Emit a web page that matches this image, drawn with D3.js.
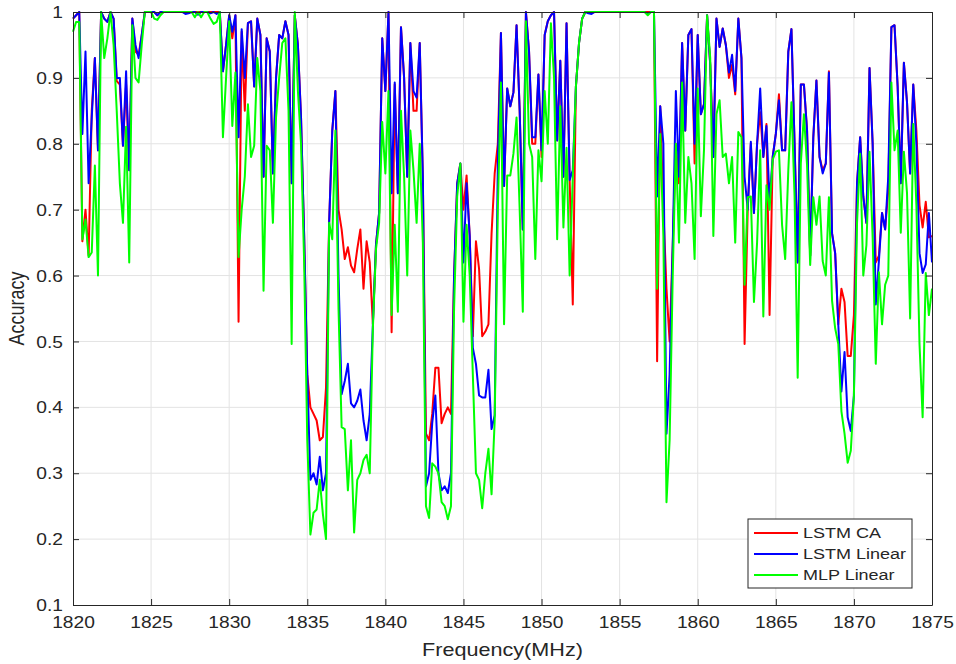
<!DOCTYPE html>
<meta charset="utf-8">
<style>
body { margin: 0; background: #fff; }
text { font-family: "Liberation Sans", Arial, sans-serif; fill: #262626; }
.grid line { stroke: #e3e3e3; stroke-width: 1; }
.series { fill: none; stroke-width: 2; stroke-linejoin: round; }
</style>
<body>
<svg width="956" height="664"></svg>
<script src="https://cdn.jsdelivr.net/npm/d3@7"></script>
<script>

// frequency grid of the samples (MHz)
var freqStart = 1820, freqStep = 0.2;

var lstmCA = [
  0.99, 0.995, 1.0, 0.652, 0.70, 0.63, 0.85, 0.93, 0.79, 1.0,
  0.99, 0.985, 1.0, 0.99, 0.895, 0.89, 0.797, 0.89, 0.76, 0.99,
  0.94, 0.935, 0.965, 1, 1, 1, 1, 0.995, 1, 1,
  1, 1, 1, 1, 1, 1, 1, 1, 1, 1,
  1, 1, 1, 1, 1, 1, 1, 1, 0.91, 0.95,
  0.995, 0.96, 0.995, 0.53, 0.97, 0.85, 0.983, 0.986, 0.887, 0.99,
  0.965, 0.75, 0.96, 0.94, 0.755, 0.9, 0.965, 0.96, 0.986, 0.965,
  0.74, 0.995, 0.95, 0.84, 0.66, 0.45, 0.40, 0.39, 0.38, 0.35,
  0.355, 0.43, 0.68, 0.82, 0.88, 0.70, 0.67, 0.625, 0.643, 0.615,
  0.605, 0.64, 0.67, 0.58, 0.652, 0.62, 0.526, 0.647, 0.695, 0.96,
  0.88, 1.0, 0.514, 0.89, 0.725, 0.977, 0.9, 0.75, 0.953, 0.85,
  0.85, 0.953, 0.75, 0.36, 0.35, 0.39, 0.46, 0.46, 0.376, 0.39,
  0.40, 0.39, 0.60, 0.74, 0.77, 0.70, 0.752, 0.66, 0.508, 0.652,
  0.61, 0.508, 0.515, 0.526, 0.664, 0.755, 0.80, 0.968, 0.736, 0.884,
  0.857, 0.878, 0.98, 0.85, 0.67, 1.0, 0.94, 0.80, 0.80, 0.905,
  0.78, 0.965, 0.986, 0.995, 1.0, 0.805, 0.926, 0.75, 0.983, 0.745,
  0.556, 0.887, 0.953, 0.99, 1, 1, 1, 1, 1, 1,
  1, 1, 1, 1, 1, 1, 1, 1, 1, 1,
  1, 1, 1, 1, 1, 1, 1, 0.47, 0.857, 0.70,
  0.58, 0.50, 0.646, 0.80, 0.74, 0.953, 0.82, 0.965, 0.974, 0.77,
  0.965, 0.845, 0.86, 0.995, 0.92, 0.78, 0.99, 0.947, 0.975, 0.95,
  0.90, 0.92, 0.875, 0.99, 0.93, 0.496, 0.70, 0.80, 0.695, 0.80,
  0.848, 0.78, 0.83, 0.54, 0.78, 0.815, 0.875, 0.79, 0.79, 0.94,
  0.974, 0.80, 0.62, 0.89, 0.89, 0.82, 0.63, 0.81, 0.896, 0.78,
  0.76, 0.77, 0.91, 0.664, 0.634, 0.526, 0.58, 0.56, 0.478, 0.478,
  0.54, 0.74, 0.81, 0.72, 0.68, 0.915, 0.80, 0.62, 0.63, 0.695,
  0.67, 0.73, 0.977, 0.98, 0.887, 0.74, 0.923, 0.863, 0.755, 0.89,
  0.82, 0.707, 0.673, 0.712, 0.658, 0.66
];

var lstmLinear = [
  0.99, 0.995, 1.0, 0.815, 0.94, 0.74, 0.84, 0.93, 0.79, 1.0,
  0.99, 0.985, 1.0, 0.99, 0.90, 0.90, 0.797, 0.91, 0.76, 0.99,
  0.95, 0.93, 0.965, 1, 1, 1, 1, 0.995, 1, 1,
  1, 1, 1, 1, 1, 1, 0.997, 0.998, 1, 1,
  0.996, 1, 1, 1, 0.998, 1, 0.997, 1, 0.91, 0.95,
  0.995, 0.97, 0.995, 0.81, 0.974, 0.90, 0.983, 0.986, 0.887, 0.99,
  0.965, 0.75, 0.96, 0.94, 0.755, 0.9, 0.965, 0.96, 0.986, 0.965,
  0.74, 0.995, 0.95, 0.84, 0.66, 0.45, 0.29, 0.30, 0.283, 0.325,
  0.274, 0.30, 0.68, 0.82, 0.88, 0.60, 0.42, 0.44, 0.466, 0.406,
  0.40, 0.41, 0.427, 0.38, 0.35, 0.39, 0.526, 0.647, 0.695, 0.96,
  0.88, 1.0, 0.725, 0.893, 0.725, 0.977, 0.9, 0.75, 0.953, 0.88,
  0.87, 0.953, 0.75, 0.28, 0.30, 0.376, 0.418, 0.30, 0.274, 0.28,
  0.27, 0.30, 0.60, 0.74, 0.77, 0.62, 0.74, 0.66, 0.49, 0.466,
  0.418, 0.415, 0.415, 0.457, 0.367, 0.388, 0.767, 0.968, 0.736, 0.884,
  0.857, 0.878, 0.98, 0.85, 0.67, 1.0, 0.94, 0.81, 0.81, 0.905,
  0.79, 0.965, 0.986, 0.995, 1.0, 0.805, 0.926, 0.75, 0.983, 0.745,
  0.76, 0.887, 0.953, 0.99, 1, 0.998, 0.997, 1, 1, 1,
  1, 1, 1, 1, 1, 1, 1, 1, 1, 1,
  1, 1, 1, 1, 0.997, 1, 1, 0.72, 0.857, 0.80,
  0.36, 0.45, 0.646, 0.88, 0.75, 0.953, 0.82, 0.965, 0.974, 0.80,
  0.965, 0.845, 0.86, 0.995, 0.92, 0.78, 0.99, 0.947, 0.975, 0.95,
  0.908, 0.935, 0.88, 0.99, 0.93, 0.75, 0.70, 0.803, 0.695, 0.80,
  0.884, 0.78, 0.827, 0.713, 0.78, 0.815, 0.866, 0.79, 0.79, 0.94,
  0.974, 0.80, 0.62, 0.89, 0.89, 0.82, 0.63, 0.81, 0.896, 0.78,
  0.755, 0.77, 0.908, 0.664, 0.634, 0.526, 0.424, 0.484, 0.385, 0.364,
  0.418, 0.74, 0.81, 0.72, 0.68, 0.915, 0.80, 0.556, 0.622, 0.695,
  0.67, 0.75, 0.977, 0.98, 0.887, 0.74, 0.923, 0.863, 0.755, 0.89,
  0.80, 0.634, 0.604, 0.617, 0.695, 0.62
];

var mlpLinear = [
  0.97, 0.985, 0.985, 0.655, 0.685, 0.628, 0.635, 0.767, 0.60, 1.0,
  0.93, 0.96, 1.0, 0.95, 0.85, 0.74, 0.68, 0.826, 0.62, 0.98,
  0.90, 0.893, 0.95, 1, 1, 1, 0.99, 0.988, 0.995, 1,
  1, 1, 1, 1, 1, 1, 1, 1, 1, 0.992,
  1, 0.992, 1, 1, 0.99, 0.982, 0.985, 1, 0.81, 0.90,
  0.986, 0.827, 0.908, 0.628, 0.70, 0.75, 0.86, 0.78, 0.797, 0.93,
  0.88, 0.577, 0.797, 0.79, 0.68, 0.84, 0.9, 0.953, 0.96, 0.85,
  0.496, 1.0, 0.88, 0.80, 0.62, 0.35, 0.207, 0.24, 0.245, 0.29,
  0.238, 0.20, 0.68, 0.655, 0.82, 0.55, 0.37, 0.367, 0.274, 0.35,
  0.21, 0.29, 0.30, 0.32, 0.328, 0.30, 0.52, 0.64, 0.68, 0.833,
  0.755, 0.88, 0.54, 0.677, 0.545, 0.85, 0.75, 0.6, 0.82, 0.76,
  0.68, 0.80, 0.65, 0.25, 0.232, 0.315, 0.31, 0.30, 0.256, 0.25,
  0.23, 0.25, 0.55, 0.72, 0.77, 0.53, 0.677, 0.60, 0.45, 0.30,
  0.29, 0.247, 0.30, 0.337, 0.268, 0.38, 0.70, 0.893, 0.526, 0.752,
  0.752, 0.785, 0.84, 0.70, 0.545, 0.986, 0.80, 0.78, 0.625, 0.79,
  0.743, 0.88, 0.80, 0.983, 0.9, 0.655, 0.857, 0.673, 0.794, 0.6,
  0.75, 0.887, 0.953, 0.99, 1, 1, 1, 1, 1, 1,
  1, 1, 1, 1, 1, 1, 1, 1, 1, 1,
  1, 1, 1, 1, 0.995, 1, 1, 0.58, 0.815, 0.66,
  0.256, 0.35, 0.60, 0.80, 0.65, 0.893, 0.68, 0.78, 0.74, 0.625,
  0.884, 0.69, 0.79, 0.995, 0.93, 0.66, 0.845, 0.866, 0.78, 0.785,
  0.74, 0.78, 0.65, 0.818, 0.81, 0.586, 0.719, 0.72, 0.56, 0.65,
  0.79, 0.538, 0.737, 0.70, 0.776, 0.788, 0.79, 0.677, 0.625, 0.76,
  0.863, 0.72, 0.445, 0.77, 0.845, 0.767, 0.616, 0.719, 0.677, 0.72,
  0.622, 0.60, 0.719, 0.562, 0.52, 0.496, 0.394, 0.36, 0.316, 0.334,
  0.418, 0.68, 0.785, 0.6, 0.646, 0.788, 0.658, 0.466, 0.605, 0.526,
  0.586, 0.6, 0.893, 0.79, 0.82, 0.665, 0.788, 0.725, 0.535, 0.83,
  0.707, 0.496, 0.385, 0.604, 0.54, 0.58
];

var seriesNames = ["LSTM CA", "LSTM Linear", "MLP Linear"];
var seriesColors = ["#ff0000", "#0000ff", "#00ff00"];
var xTicks = [1820, 1825, 1830, 1835, 1840, 1845, 1850, 1855, 1860, 1865, 1870, 1875];
var yTicks = [0.1, 0.2, 0.3, 0.4, 0.5, 0.6, 0.7, 0.8, 0.9, 1];

var svg = d3.select("svg"),
    margin = {top: 12, right: 24, bottom: 59, left: 73},
    width = +svg.attr("width") - margin.left - margin.right,
    height = +svg.attr("height") - margin.top - margin.bottom,
    g = svg.append("g").attr("transform", "translate(" + margin.left + "," + margin.top + ")");

// the picture is stretched sideways, so text gets a horizontal stretch too
var sx = 1.2;

var x = d3.scaleLinear().domain([1820, 1875]).range([0, width]);
var y = d3.scaleLinear().domain([0.1, 1]).range([height, 0]);

// grid
g.append("g").attr("class", "grid")
  .selectAll("line").data(xTicks.slice(1, -1)).enter().append("line")
    .attr("x1", function(d) { return x(d); }).attr("x2", function(d) { return x(d); })
    .attr("y1", 0).attr("y2", height);
g.append("g").attr("class", "grid")
  .selectAll("line").data(yTicks.slice(1, -1)).enter().append("line")
    .attr("y1", function(d) { return y(d); }).attr("y2", function(d) { return y(d); })
    .attr("x1", 0).attr("x2", width);

// series, drawn in legend order so green ends on top
var allSeries = [lstmCA, lstmLinear, mlpLinear];
var line = d3.line()
    .x(function(d, i) { return x(freqStart + i * freqStep); })
    .y(function(d) { return y(d); });

allSeries.forEach(function(vals, k) {
  g.append("path")
    .datum(vals)
    .attr("class", "series")
    .attr("stroke", seriesColors[k])
    .attr("d", line);
});

// axes with inward ticks on all four sides
function styleAxis(sel) {
  sel.select(".domain").attr("stroke", "#262626").attr("stroke-width", 1);
  sel.selectAll(".tick line").attr("stroke", "#262626");
}
var xb = g.append("g").attr("transform", "translate(0," + height + ")")
    .call(d3.axisBottom(x).tickValues(xTicks).tickSizeInner(-6).tickSizeOuter(0).tickFormat(d3.format("d")));
var xt = g.append("g")
    .call(d3.axisTop(x).tickValues(xTicks).tickSizeInner(-6).tickSizeOuter(0).tickFormat(""));
var yl = g.append("g")
    .call(d3.axisLeft(y).tickValues(yTicks).tickSizeInner(-6).tickSizeOuter(0).tickFormat(d3.format("")));
var yr = g.append("g").attr("transform", "translate(" + width + ",0)")
    .call(d3.axisRight(y).tickValues(yTicks).tickSizeInner(-6).tickSizeOuter(0).tickFormat(""));
[xb, xt, yl, yr].forEach(styleAxis);

xb.selectAll(".tick text")
    .attr("y", 0).attr("dy", 0)
    .style("font-size", "16px")
    .attr("transform", "translate(0,23) scale(" + sx + ",1)");
yl.selectAll(".tick text")
    .attr("x", 0).attr("dy", "0.35em")
    .style("font-size", "16px")
    .attr("transform", "translate(-10,0) scale(" + sx + ",1)");

// axis titles
svg.append("text")
    .attr("text-anchor", "middle")
    .style("font-size", "18px")
    .attr("transform", "translate(" + (margin.left + width / 2) + ",656) scale(" + sx + ",1)")
    .text("Frequency(MHz)");
svg.append("text")
    .attr("text-anchor", "middle")
    .style("font-size", "18px")
    .attr("transform", "translate(24," + (margin.top + height / 2) + ") scale(" + sx + ",1) rotate(-90)")
    .text("Accuracy");

// legend
var lg = svg.append("g").attr("transform", "translate(748,519)");
lg.append("rect").attr("width", 164).attr("height", 69)
    .attr("fill", "#fff").attr("stroke", "#262626").attr("stroke-width", 1);
seriesNames.forEach(function(name, k) {
  var ly = 14 + k * 21;
  lg.append("line").attr("x1", 6).attr("x2", 50).attr("y1", ly).attr("y2", ly)
    .attr("stroke", seriesColors[k]).attr("stroke-width", 2);
  lg.append("text")
    .attr("transform", "translate(55," + ly + ") scale(" + sx + ",1)")
    .attr("dy", "0.35em")
    .style("font-size", "15px")
    .text(name);
});

</script>
</body>
